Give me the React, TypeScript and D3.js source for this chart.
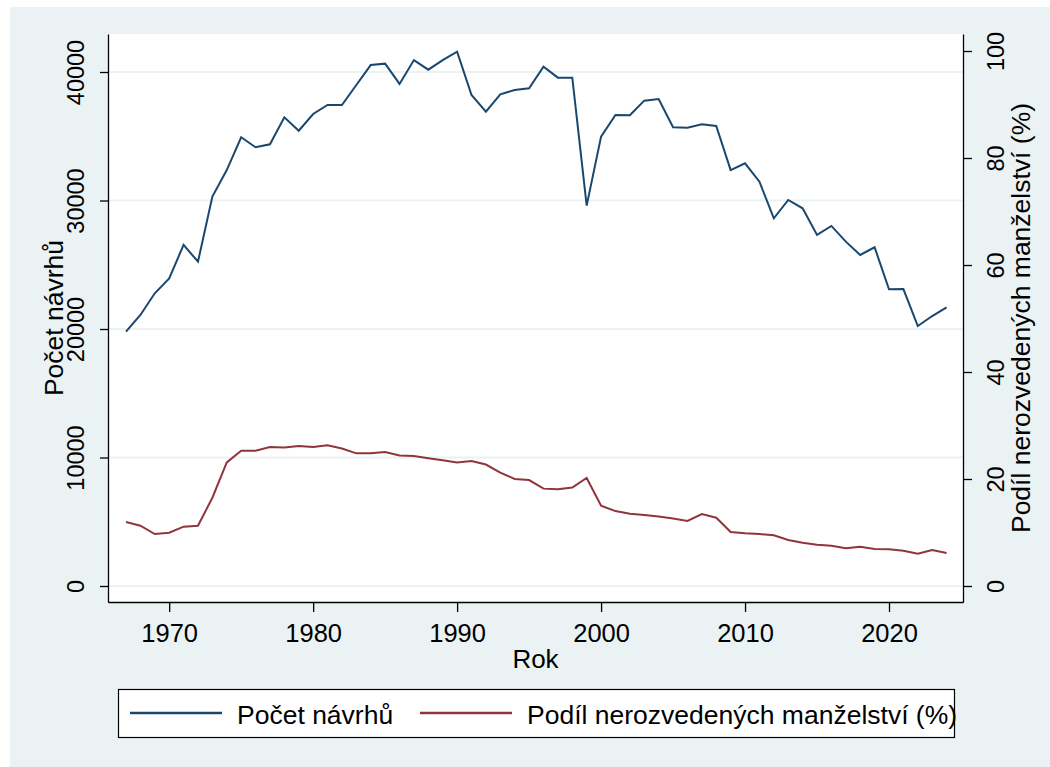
import React, { useEffect, useRef } from "react";
import * as d3 from "d3";

const years = [
  1967, 1968, 1969, 1970, 1971, 1972, 1973, 1974, 1975, 1976,
  1977, 1978, 1979, 1980, 1981, 1982, 1983, 1984, 1985, 1986,
  1987, 1988, 1989, 1990, 1991, 1992, 1993, 1994, 1995, 1996,
  1997, 1998, 1999, 2000, 2001, 2002, 2003, 2004, 2005, 2006,
  2007, 2008, 2009, 2010, 2011, 2012, 2013, 2014, 2015, 2016,
  2017, 2018, 2019, 2020, 2021, 2022, 2023, 2024,
];

// počet návrhů na rozvod
const navrhy = [
  19790, 21090, 22780, 23940, 26540, 25240, 30300, 32370, 34920, 34140,
  34370, 36470, 35430, 36730, 37430, 37430, 38990, 40540, 40650, 39070,
  40930, 40180, 40930, 41580, 38210, 36910, 38260, 38600, 38730, 40410,
  39560, 39560, 29600, 34970, 36650, 36630, 37770, 37900, 35700, 35670,
  35930, 35800, 32370, 32890, 31460, 28610, 30040, 29390, 27320, 28020,
  26800, 25760, 26360, 23090, 23110, 20230, 21010, 21690,
];

// podíl nerozvedených manželství (%)
const podil = [
  11.96, 11.27, 9.72, 9.97, 11.09, 11.27, 16.5, 23.1, 25.3, 25.3,
  25.98, 25.9, 26.17, 25.98, 26.3, 25.7, 24.8, 24.8, 25.05, 24.4,
  24.3, 23.9, 23.5, 23.1, 23.36, 22.7, 21.2, 20.0, 19.8, 18.2,
  18.07, 18.4, 20.2, 15.0, 14.0, 13.5, 13.27, 13.0, 12.6, 12.15,
  13.46, 12.77, 10.1, 9.85, 9.72, 9.47, 8.6, 8.1, 7.73, 7.54,
  7.04, 7.35, 6.92, 6.85, 6.6, 6.04, 6.73, 6.17,
];

const xTicks = [1970, 1980, 1990, 2000, 2010, 2020];
const leftTicks = [0, 10000, 20000, 30000, 40000];
const rightTicks = [0, 20, 40, 60, 80, 100];

const seriesNames = ["Počet návrhů", "Podíl nerozvedených manželství (%)"];

const App = () => {
  const chart = useRef(null);

  useEffect(() => {
    const W = 1050, H = 767;
    const plot = { left: 108, right: 963, top: 34, bottom: 602 };
    const font = "'Liberation Sans', Arial, sans-serif";
    const bg = "#eaf2f3";
    const blue = "#1a476f";
    const red = "#90353b";

    const svg = d3.select(chart.current);
    svg.selectAll("*").remove();
    svg.attr("width", W).attr("height", H);

    svg.append("rect").attr("width", W).attr("height", H).attr("fill", "#fff");
    svg.append("rect").attr("x", 10).attr("y", 7).attr("width", W - 10).attr("height", H - 7).attr("fill", bg);
    svg.append("rect")
      .attr("x", plot.left).attr("y", plot.top)
      .attr("width", plot.right - plot.left).attr("height", plot.bottom - plot.top)
      .attr("fill", "#fff");

    const x = d3.scaleLinear().domain([1965.75, 2025.14]).range([plot.left, plot.right]);
    const yL = d3.scaleLinear().domain([-1245, 42957]).range([plot.bottom, plot.top]);
    const yR = d3.scaleLinear().domain([-2.99, 103.18]).range([plot.bottom, plot.top]);

    // gridlines
    svg.append("g")
      .selectAll("line")
      .data(leftTicks)
      .join("line")
        .attr("x1", plot.left).attr("x2", plot.right)
        .attr("y1", d => yL(d)).attr("y2", d => yL(d))
        .attr("stroke", bg).attr("stroke-width", 2);

    const styleAxis = (g, size) => {
      g.select(".domain").attr("stroke", "#000").attr("stroke-width", 1.3);
      g.selectAll(".tick line").attr("stroke", "#000").attr("stroke-width", 1.3);
      g.selectAll("text").attr("font-family", font).attr("font-size", size).attr("fill", "#000");
    };

    // x axis
    const gx = svg.append("g")
      .attr("transform", `translate(0,${plot.bottom})`)
      .call(d3.axisBottom(x).tickValues(xTicks).tickFormat(d3.format("d")).tickSize(10).tickSizeOuter(0));
    styleAxis(gx, 25.5);
    gx.selectAll(".tick text").attr("y", 40).attr("dy", null);

    // left axis
    const gl = svg.append("g")
      .attr("transform", `translate(${plot.left},0)`)
      .call(d3.axisLeft(yL).tickValues(leftTicks).tickFormat(d3.format("d")).tickSize(8).tickSizeOuter(0));
    styleAxis(gl, 23.5);
    gl.selectAll(".tick text")
      .attr("x", null).attr("y", null).attr("dy", null)
      .attr("text-anchor", "middle")
      .attr("transform", "translate(-24,0) rotate(-90)");

    // right axis
    const gr = svg.append("g")
      .attr("transform", `translate(${plot.right},0)`)
      .call(d3.axisRight(yR).tickValues(rightTicks).tickFormat(d3.format("d")).tickSize(9).tickSizeOuter(0));
    styleAxis(gr, 23.5);
    gr.selectAll(".tick text")
      .attr("x", null).attr("y", null).attr("dy", null)
      .attr("text-anchor", "middle")
      .attr("transform", "translate(41,0) rotate(-90)");

    // axis titles
    const midY = (plot.top + plot.bottom) / 2;
    svg.append("text")
      .attr("transform", `translate(63,${midY}) rotate(-90)`)
      .attr("text-anchor", "middle")
      .attr("font-family", font).attr("font-size", 26.5)
      .text("Počet návrhů");
    svg.append("text")
      .attr("transform", `translate(1030,${midY}) rotate(-90)`)
      .attr("text-anchor", "middle")
      .attr("font-family", font).attr("font-size", 26.5)
      .text("Podíl nerozvedených manželství (%)");
    svg.append("text")
      .attr("x", (plot.left + plot.right) / 2).attr("y", 668)
      .attr("text-anchor", "middle")
      .attr("font-family", font).attr("font-size", 26)
      .text("Rok");

    // lines
    const lineL = d3.line().x((d, i) => x(years[i])).y(d => yL(d));
    const lineR = d3.line().x((d, i) => x(years[i])).y(d => yR(d));

    svg.append("path")
      .datum(navrhy)
      .attr("d", lineL)
      .attr("fill", "none").attr("stroke", blue).attr("stroke-width", 2)
      .attr("stroke-linejoin", "miter");
    svg.append("path")
      .datum(podil)
      .attr("d", lineR)
      .attr("fill", "none").attr("stroke", red).attr("stroke-width", 2)
      .attr("stroke-linejoin", "miter");

    // legend
    const lg = svg.append("g");
    lg.append("rect")
      .attr("x", 118.5).attr("y", 689.5).attr("width", 836).attr("height", 48)
      .attr("fill", "#fff").attr("stroke", "#000").attr("stroke-width", 1.2);
    const items = [
      { name: seriesNames[0], color: blue, x0: 130, tx: 237 },
      { name: seriesNames[1], color: red, x0: 420, tx: 527 },
    ];
    items.forEach(it => {
      lg.append("line")
        .attr("x1", it.x0).attr("x2", it.x0 + 92)
        .attr("y1", 713).attr("y2", 713)
        .attr("stroke", it.color).attr("stroke-width", 2.5);
      lg.append("text")
        .attr("x", it.tx).attr("y", 724)
        .attr("font-family", font).attr("font-size", 26.5)
        .text(it.name);
    });
  }, []);

  return (
    <div>
      <svg ref={chart} style={{ position: "absolute", left: 0, top: 0, display: "block" }} />
    </div>
  );
};

export default App;
